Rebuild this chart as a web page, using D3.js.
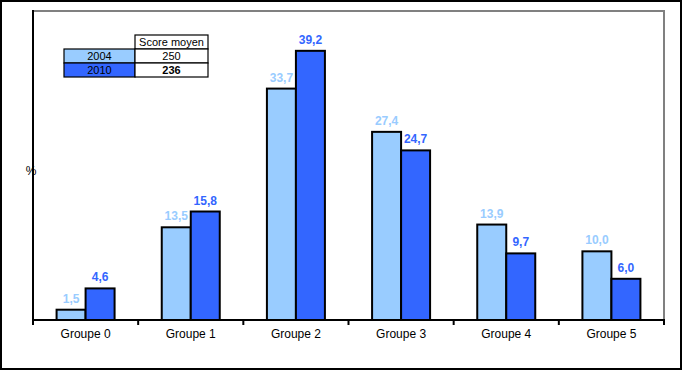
<!DOCTYPE html>
<html><head><meta charset="utf-8">
<script src="https://cdn.jsdelivr.net/npm/d3@7"></script>
<style>body{margin:0;background:#fff}svg{display:block;font-family:"Liberation Sans",Arial,sans-serif}</style>
</head><body><svg id="c" width="684" height="371"></svg>
<script>
const categories = ["Groupe 0","Groupe 1","Groupe 2","Groupe 3","Groupe 4","Groupe 5"];
const seriesNames = ["2004","2010"];
const values2004 = [1.5,13.5,33.7,27.4,13.9,10.0];
const values2010 = [4.6,15.8,39.2,24.7,9.7,6.0];
const scores = ["250","236"];
const legendHeader = "Score moyen";
const yLabel = "%";
const yMax = 45;

const colors = ["#99CCFF","#3366FF"];
const labelColors = ["#99CCFF","#3366FF"];
const svg = d3.select("#c");
const L=33, R=664, T=11, B=320;

// outer frame
svg.append("rect").attr("x",1).attr("y",1).attr("width",680).attr("height",368)
  .attr("fill","none").attr("stroke","#000").attr("stroke-width",2);

const x = d3.scaleBand().domain(categories).range([L,R]).paddingInner(0).paddingOuter(0);
const y = d3.scaleLinear().domain([0,yMax]).range([B,T]);
const bw = 29;

// plot area border (top/right gray)
svg.append("path").attr("d",`M${L},${T}H${R}V${B}`).attr("fill","none").attr("stroke","#808080").attr("stroke-width",2);

const series = [values2004, values2010];
series.forEach((vals,si)=>{
  const g = svg.append("g");
  g.selectAll("rect").data(vals).join("rect")
    .attr("x",(d,i)=>x(categories[i])+x.bandwidth()/2 - bw + si*bw)
    .attr("y",d=>y(d)).attr("width",bw).attr("height",d=>B-y(d))
    .attr("fill",colors[si]).attr("stroke","#000").attr("stroke-width",2);
  g.selectAll("text").data(vals).join("text")
    .attr("x",(d,i)=>x(categories[i])+x.bandwidth()/2 - bw/2 + si*bw)
    .attr("y",d=>y(d)-7).attr("text-anchor","middle")
    .attr("font-size",12).attr("font-weight","bold").attr("fill",labelColors[si])
    .text(d=>d.toFixed(1).replace(".",","));
});

// y axis line
svg.append("line").attr("x1",L).attr("x2",L).attr("y1",T-1).attr("y2",B+1).attr("stroke","#000").attr("stroke-width",2);

// x axis
const xa = svg.append("g").attr("transform",`translate(0,${B})`);
xa.append("line").attr("x1",L-1).attr("x2",R+1).attr("stroke","#000").attr("stroke-width",2);
const bounds = categories.map(c=>x(c)).concat([R]);
xa.selectAll("line.t").data(bounds).join("line").attr("class","t")
  .attr("x1",d=>d).attr("x2",d=>d).attr("y1",0).attr("y2",5).attr("stroke","#000").attr("stroke-width",2);
xa.selectAll("text").data(categories).join("text")
  .attr("x",d=>x(d)+x.bandwidth()/2).attr("y",18).attr("text-anchor","middle")
  .attr("font-size",12).attr("fill","#000").text(d=>d);

svg.append("text").attr("x",31).attr("y",175).attr("text-anchor","middle").attr("font-size",12).text(yLabel);

// legend table
const lg = svg.append("g");
const cx0=64, cx1=135, cx2=208, ry0=35, rh=14;
lg.append("rect").attr("x",cx1).attr("y",ry0).attr("width",cx2-cx1).attr("height",rh).attr("fill","#fff").attr("stroke","#000").attr("stroke-width",1.2);
lg.append("text").attr("x",(cx1+cx2)/2).attr("y",ry0+11).attr("text-anchor","middle").attr("font-size",11).text(legendHeader);
seriesNames.forEach((s,i)=>{
  const yy = ry0+rh*(i+1);
  lg.append("rect").attr("x",cx0).attr("y",yy).attr("width",cx1-cx0).attr("height",rh).attr("fill",colors[i]).attr("stroke","#000").attr("stroke-width",1.2);
  lg.append("rect").attr("x",cx1).attr("y",yy).attr("width",cx2-cx1).attr("height",rh).attr("fill","#fff").attr("stroke","#000").attr("stroke-width",1.2);
  lg.append("text").attr("x",(cx0+cx1)/2).attr("y",yy+11).attr("text-anchor","middle").attr("font-size",11).text(s);
  lg.append("text").attr("x",(cx1+cx2)/2).attr("y",yy+11).attr("text-anchor","middle").attr("font-size",11)
    .attr("font-weight",i===1?"bold":"normal").text(scores[i]);
});
</script></body></html>
